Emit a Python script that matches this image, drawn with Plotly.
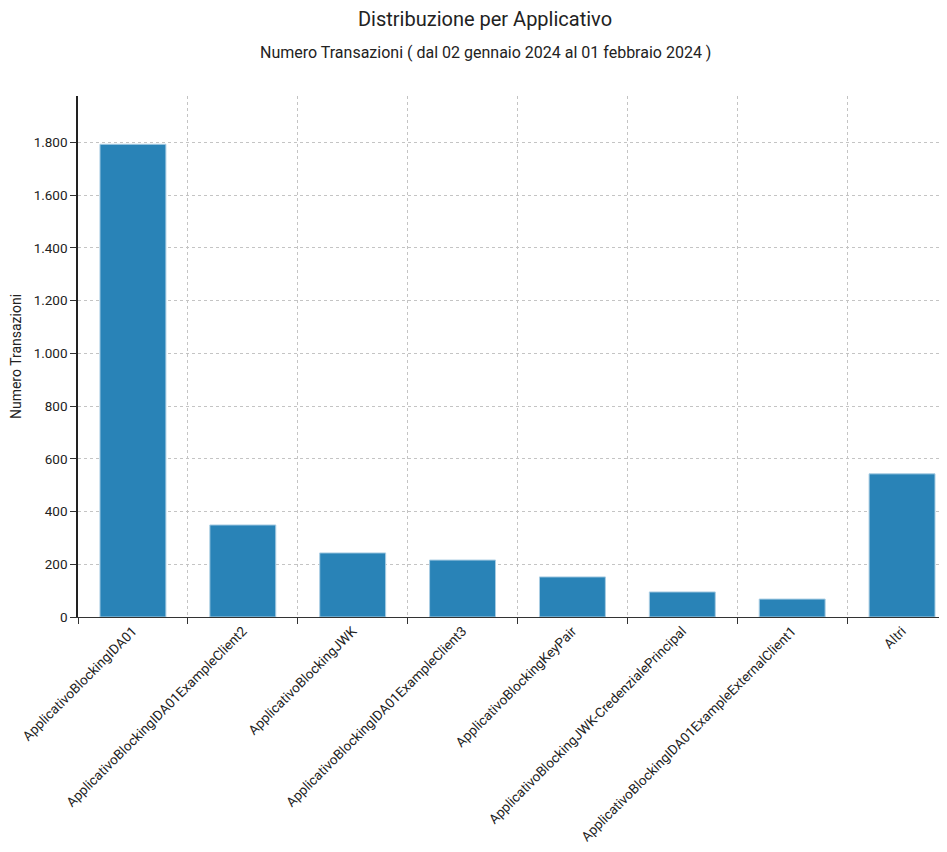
import plotly.graph_objects as go

categories = [
    "ApplicativoBlockingIDA01",
    "ApplicativoBlockingIDA01ExampleClient2",
    "ApplicativoBlockingJWK",
    "ApplicativoBlockingIDA01ExampleClient3",
    "ApplicativoBlockingKeyPair",
    "ApplicativoBlockingJWK-CredenzialePrincipal",
    "ApplicativoBlockingIDA01ExampleExternalClient1",
    "Altri",
]
values = [1793, 349, 243, 216, 152, 95, 68, 543]
y_ticks = [0, 200, 400, 600, 800, 1000, 1200, 1400, 1600, 1800]

fig = go.Figure()
fig.add_trace(go.Bar(
    x=categories, y=values,
    marker=dict(color="#2983b7", line=dict(color="#a9cde3", width=1)),
    width=0.6,
    hoverinfo="x+y",
))

font = "Roboto, sans-serif"
W, H = 939, 844
L, R, T, B = 70, 1, 88, 235
PW, PH = W - L - R, H - T - B
fig.update_layout(
    width=W, height=H,
    margin=dict(l=L, r=R, t=T, b=B),
    paper_bgcolor="white", plot_bgcolor="white",
    separators=",.",
    font=dict(family=font, size=13.5, color="#222"),
    showlegend=False,
    title=dict(text="Distribuzione per Applicativo", xref="paper", x=(477 - L) / PW, xanchor="center",
               y=1 - 11 / H, yanchor="middle", font=dict(size=20, color="#222")),
    annotations=[dict(text="Numero Transazioni ( dal 02 gennaio 2024 al 01 febbraio 2024 )",
                      xref="paper", yref="paper", x=(477.5 - L) / PW, y=1 + 43 / PH,
                      xanchor="center", yanchor="middle", showarrow=False,
                      font=dict(size=16, color="#222"))],
)
fig.update_xaxes(
    type="category", tickangle=-45, tickson="boundaries",
    range=[-0.5, 7.4],
    showline=True, linecolor="#333", linewidth=1,
    ticks="outside", ticklen=6, tickcolor="#333",
    showgrid=True, gridcolor="#c4c4c4", griddash="3px,3px", gridwidth=1,
    tickfont=dict(size=13.5, color="#222"),
)
fig.update_yaxes(
    range=[0, 1976], tickvals=y_ticks, tickformat=",d",
    showline=True, linecolor="#222", linewidth=1.5,
    ticks="outside", ticklen=6, tickcolor="#333",
    showgrid=True, gridcolor="#c4c4c4", griddash="3px,3px", gridwidth=1,
    zeroline=False,
    title=dict(text="Numero Transazioni", font=dict(size=14, color="#222"), standoff=10),
    tickfont=dict(size=13.5, color="#222"),
)
fig.write_html("out.html")
